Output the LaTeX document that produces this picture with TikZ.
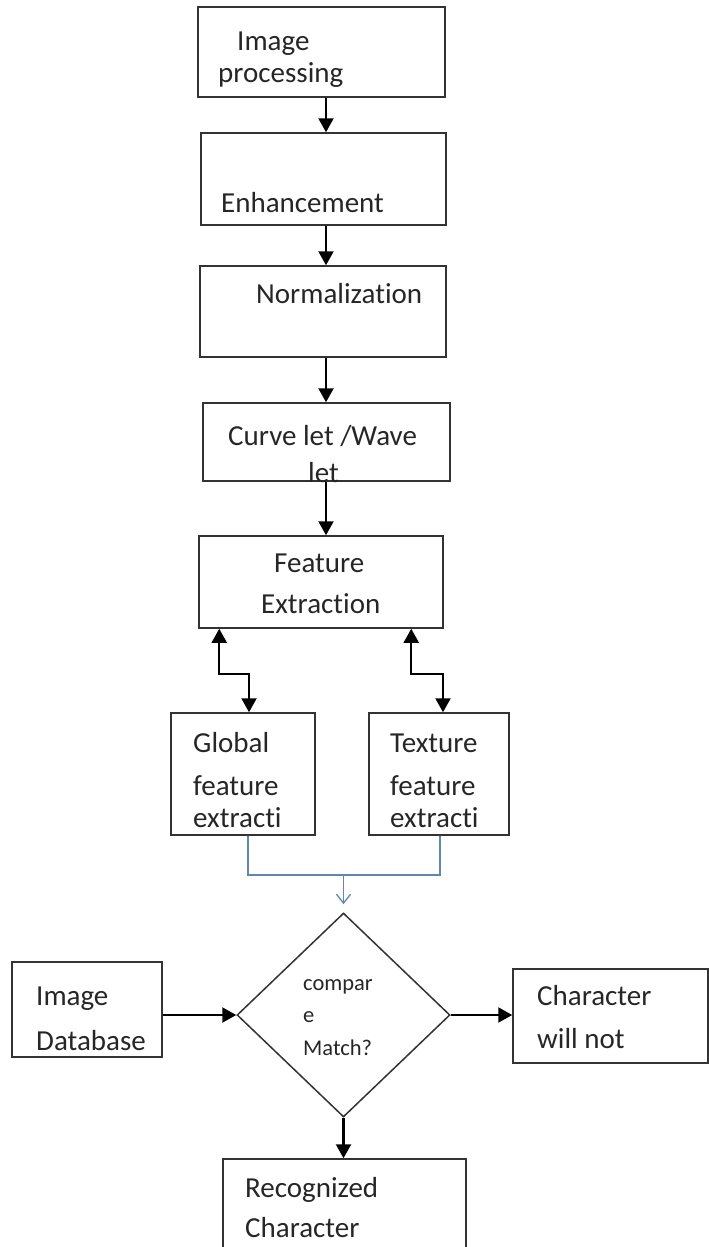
\documentclass[tikz,border=0pt]{standalone}
\usepackage{fontspec}
\setmainfont{Carlito}[Ligatures=NoCommon]
\usetikzlibrary{arrows.meta,shapes.geometric}

\definecolor{feedblue}{RGB}{95,135,175}

\begin{document}
\begin{tikzpicture}[x=1pt, y=-1pt,
    box/.style={draw=black!80, line width=1.5pt, inner sep=0pt},
    txt/.style={anchor=base west, inner sep=0pt, align=left, text=black!85, font=\fontsize{29}{42}\selectfont},
    small/.style={txt, font=\fontsize{22.5}{32}\selectfont},
    arr/.style={-{Triangle[length=14pt,width=15pt]}, line width=2.2pt},
    biarr/.style={{Triangle[length=14pt,width=15pt]}-{Triangle[length=14pt,width=15pt]}, line width=2.2pt},
    feed/.style={draw=feedblue, line width=1.3pt},
]
    \useasboundingbox (0,0) rectangle (709,1247);
    \clip (0,0) rectangle (709,1247);

    % processing chain
    \node[box, minimum width=247pt, minimum height=90pt] (b1) at (321.5,52) {};
    \node[box, minimum width=245pt, minimum height=92pt] (b2) at (323.5,179) {};
    \node[box, minimum width=246pt, minimum height=91pt] (b3) at (323,311.5) {};
    \node[box, minimum width=247pt, minimum height=78pt] (b4) at (326.5,442) {};
    \node[box, minimum width=244pt, minimum height=92pt] (b5) at (321,582) {};

    \node[txt] (t1) at (218,82) {\hspace{19pt}Image\\[-10pt]processing};
    \node[txt] (t2) at (221,212) {Enhancement};
    \node[txt] (t3) at (256,303) {Normalization};
    \node[txt] (t4) at (228,482) {Curve let /Wave\\[-5pt]\hspace{80pt}let};
    \node[txt] (t5) at (261,613) {\hspace{13pt}Feature\\[-1pt]Extraction};

    \coordinate (col) at (326,0);
    \foreach \a/\b in {b1/b2,b2/b3,b3/b4,b4/b5}
        \draw[arr] (\a.south -| col) -- (\b.north -| col);

    % two feature branches
    \node[box, minimum width=144pt, minimum height=122pt] (glob) at (243,774) {};
    \node[box, minimum width=140pt, minimum height=122pt] (tex) at (439,774) {};
    \node[txt] (t6) at (193,827) {Global\\[1pt]feature\\[-10pt]extracti};
    \node[txt] (t7) at (390,827) {Texture\\[1pt]feature\\[-10pt]extracti};

    \draw[biarr] ([xshift=21pt]b5.south west) -- ++(0,45) -| ([xshift=6pt]glob.north);
    \draw[biarr] ([xshift=213pt]b5.south west) -- ++(0,45) -| ([xshift=4pt]tex.north);

    % decision
    \node[draw=black!80, line width=1.5pt, diamond, inner sep=0pt,
          minimum width=213pt, minimum height=204pt] (dia) at (343.5,1015) {};
    \node[small] (t9) at (303,1055) {compar\\e\\[1pt]Match?};

    \coordinate (join) at (343.5,875);
    \draw[feed] ([xshift=5pt]glob.south) |- (join) -| ([xshift=1pt]tex.south);
    \draw[feed, -{Straight Barb[length=9pt,width=14pt]}] (join) -- ([yshift=8pt]dia.north);

    \node[box, minimum width=150pt, minimum height=95pt] (db) at (87,1009.5) {};
    \node[box, minimum width=195pt, minimum height=94pt] (nomatch) at (610.5,1016) {};
    \node[box, minimum width=243pt, minimum height=111pt] (rec) at (344.5,1214.5) {};
    \node[txt] (t8) at (36,1050) {Image\\[3pt]Database};
    \node[txt] (t10) at (537,1048) {Character\\[1pt]will not};
    \node[txt] (t11) at (245,1237) {Recognized\\[-2pt]Character};

    \draw[arr] (db.east |- dia.west) -- (dia.west);
    \draw[arr] (dia.east) -- (nomatch.west |- dia.east);
    \draw[arr] (dia.south) -- (rec.north -| dia.south);
\end{tikzpicture}
\end{document}
